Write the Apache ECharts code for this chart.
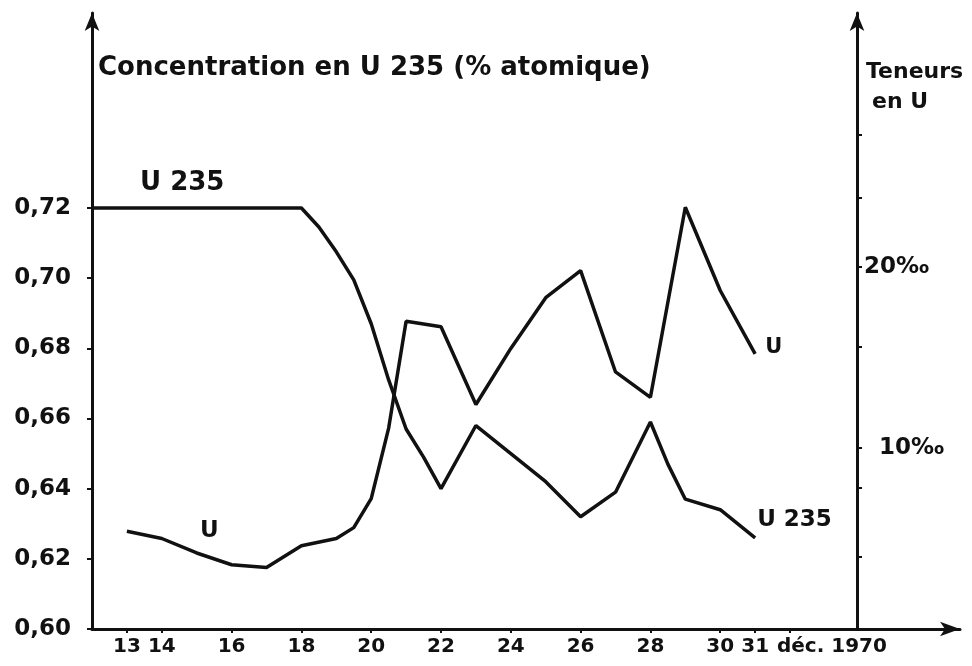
<!DOCTYPE html>
<html><head><meta charset="utf-8">
<script src="https://cdn.jsdelivr.net/npm/echarts@6/dist/echarts.min.js"></script>
<style>html,body{margin:0;padding:0;background:#fff}#c{width:972px;height:666px}</style>
</head><body><div id="c"></div>
<script>
// Days of December 1970
const u235Days   = [12,13,14,15,16,17,18,18.5,19,19.5,20,20.5,21,21.5,22,23,24,25,26,27,28,28.5,29,30,31];
const u235Values = [0.720,0.720,0.720,0.720,0.720,0.720,0.720,0.7146,0.7075,0.6995,0.687,0.671,0.657,0.649,0.640,0.658,0.650,0.642,0.632,0.639,0.659,0.647,0.637,0.634,0.626];
const uDays   = [13,14,15,16,17,18,19,19.5,20,20.5,21,22,23,24,25,26,27,28,29,30,31];
const uValues = [5.4,5.0,4.2,3.55,3.4,4.6,5.0,5.6,7.2,11.1,17.0,16.7,12.4,15.5,18.3,19.8,14.2,12.8,23.3,18.7,15.2];
const xTickDays  = [13,14,16,18,20,22,24,26,28,30,31,32];
const xLabelDays = [13,14,16,18,20,22,24,26,28,30,31,33.2];
const xLabelTexts = {33.2: 'déc. 1970'};
const leftTicks  = [0.60,0.62,0.64,0.66,0.68,0.70,0.72];
const rightTicks = [4,7.8,10,15.6,20,23.8,27.3];
const rightLabels = [10,20];

const FONT = 'DejaVu Sans';
const INK = '#111';
const chart = echarts.init(document.getElementById('c'), null, {renderer:'canvas'});
const axisLineStyle = {color: INK, width: 3};
chart.setOption({
  backgroundColor: '#fff',
  animation: false,
  grid: {left: 92, right: 12, top: 13, bottom: 37},
  xAxis: {
    type: 'value', min: 12, max: 36.87,
    axisLine: {show: true, onZero: false, lineStyle: axisLineStyle, symbol: ['none','arrow'], symbolSize: [11, 20]},
    axisTick: {show: true, customValues: xTickDays, length: 4, lineStyle: {color: INK, width: 2}},
    axisLabel: {customValues: xLabelDays, formatter: v => xLabelTexts[v] || String(v),
      fontFamily: FONT, fontWeight: 'bold', fontSize: 20, color: INK, margin: 8},
    splitLine: {show: false}
  },
  yAxis: [{
    type: 'value', min: 0.6, max: 0.77558, position: 'left',
    axisLine: {show: true, onZero: false, lineStyle: axisLineStyle, symbol: ['none','arrow'], symbolSize: [11, 18]},
    axisTick: {show: true, customValues: leftTicks, length: 5, lineStyle: {color: INK, width: 2}},
    axisLabel: {customValues: leftTicks, formatter: v => v.toFixed(2).replace('.', ','),
      fontFamily: FONT, fontWeight: 'bold', fontSize: 23, color: INK, margin: 21},
    splitLine: {show: false}
  }, {
    type: 'value', min: 0, max: 34.03, position: 'right', offset: -103,
    axisLine: {show: true, onZero: false, lineStyle: axisLineStyle, symbol: ['none','arrow'], symbolSize: [11, 18]},
    axisTick: {show: true, customValues: rightTicks, length: 5, lineStyle: {color: INK, width: 2}},
    axisLabel: {customValues: rightLabels, formatter: v => (v === 10 ? '{p|' + v + '‰}' : v + '‰'),
      fontFamily: FONT, fontWeight: 'bold', fontSize: 23, color: INK, margin: 7,
      rich: {p: {fontFamily: FONT, fontWeight: 'bold', fontSize: 23, color: INK, padding: [0, 0, 0, 15]}}},
    splitLine: {show: false}
  }],
  series: [{
    name: 'U 235', type: 'line', yAxisIndex: 0, symbol: 'none',
    data: u235Days.map((d, i) => [d, u235Values[i]]),
    lineStyle: {color: INK, width: 3.5},
    endLabel: {show: true, formatter: 'U 235', fontFamily: FONT, fontWeight: 'bold', fontSize: 23, color: INK, offset: [-6, -18]}
  }, {
    name: 'U', type: 'line', yAxisIndex: 1, symbol: 'none',
    data: uDays.map((d, i) => [d, uValues[i]]),
    lineStyle: {color: INK, width: 3.5},
    endLabel: {show: true, formatter: 'U', fontFamily: FONT, fontWeight: 'bold', fontSize: 21, color: INK, offset: [2, -6]}
  }],
  graphic: [
    {type: 'text', left: 98, top: 55, style: {text: 'Concentration en U 235 (% atomique)', font: 'bold 26px "DejaVu Sans"', fill: INK}},
    {type: 'text', left: 140, top: 170, style: {text: 'U 235', font: 'bold 26px "DejaVu Sans"', fill: INK}},
    {type: 'text', left: 200, top: 520, style: {text: 'U', font: 'bold 23px "DejaVu Sans"', fill: INK}},
    {type: 'text', left: 866, top: 61, style: {text: 'Teneurs', font: 'bold 22px "DejaVu Sans"', fill: INK}},
    {type: 'text', left: 872, top: 91, style: {text: 'en U', font: 'bold 22px "DejaVu Sans"', fill: INK}}
  ]
});
</script>
</body></html>
